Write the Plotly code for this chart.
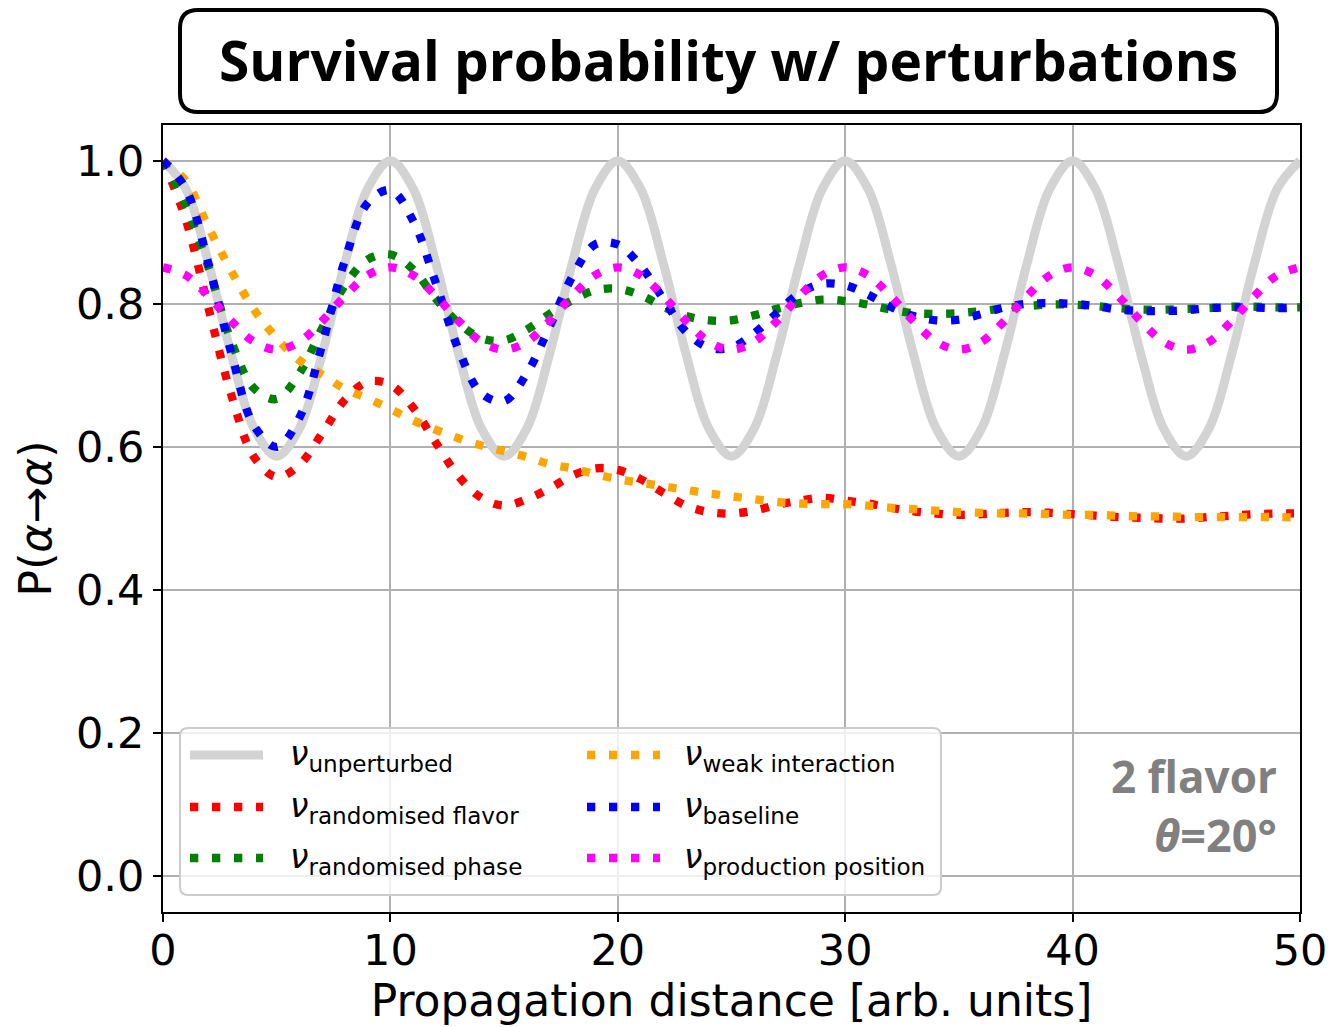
import plotly.graph_objects as go

# ---- data -------------------------------------------------------------
distance = list(range(0, 51))

p_unperturbed = [
    1.000, 0.961, 0.857, 0.730, 0.626, 0.587, 0.626, 0.730, 0.857, 0.961,
    1.000, 0.961, 0.857, 0.730, 0.626, 0.587, 0.626, 0.730, 0.857, 0.961,
    1.000, 0.961, 0.857, 0.730, 0.626, 0.587, 0.626, 0.730, 0.857, 0.961,
    1.000, 0.961, 0.857, 0.730, 0.626, 0.587, 0.626, 0.730, 0.857, 0.961,
    1.000, 0.961, 0.857, 0.730, 0.626, 0.587, 0.626, 0.730, 0.857, 0.961,
    1.000,
]

p_rand_flavor = [
    1.000, 0.918, 0.794, 0.673, 0.586, 0.558, 0.575, 0.619, 0.666, 0.691,
    0.687, 0.655, 0.606, 0.559, 0.529, 0.518, 0.527, 0.542, 0.560, 0.570,
    0.568, 0.555, 0.536, 0.518, 0.509, 0.507, 0.511, 0.519, 0.525, 0.529,
    0.525, 0.521, 0.515, 0.510, 0.507, 0.505, 0.506, 0.508, 0.509, 0.508,
    0.506, 0.504, 0.502, 0.501, 0.500, 0.500, 0.502, 0.504, 0.506, 0.507,
    0.507,
]

p_rand_phase = [
    1.000, 0.937, 0.851, 0.748, 0.682, 0.667, 0.703, 0.766, 0.826, 0.862,
    0.869, 0.848, 0.807, 0.773, 0.752, 0.749, 0.764, 0.786, 0.805, 0.819,
    0.821, 0.812, 0.796, 0.783, 0.777, 0.777, 0.784, 0.793, 0.801, 0.806,
    0.804, 0.799, 0.792, 0.787, 0.786, 0.787, 0.790, 0.794, 0.797, 0.799,
    0.799, 0.797, 0.794, 0.792, 0.792, 0.793, 0.794, 0.796, 0.796, 0.795,
    0.795,
]

p_weak = [
    1.000, 0.972, 0.907, 0.846, 0.792, 0.752, 0.721, 0.701, 0.681, 0.668,
    0.653, 0.637, 0.624, 0.612, 0.602, 0.594, 0.586, 0.576, 0.570, 0.562,
    0.555, 0.550, 0.545, 0.540, 0.535, 0.531, 0.527, 0.523, 0.521, 0.520,
    0.520, 0.518, 0.515, 0.513, 0.511, 0.509, 0.508, 0.507, 0.507, 0.506,
    0.505, 0.505, 0.504, 0.503, 0.503, 0.502, 0.502, 0.502, 0.502, 0.502,
    0.501,
]

p_baseline = [
    1.000, 0.961, 0.856, 0.732, 0.630, 0.600, 0.641, 0.743, 0.861, 0.941,
    0.959, 0.916, 0.829, 0.736, 0.675, 0.664, 0.703, 0.768, 0.838, 0.883,
    0.883, 0.853, 0.807, 0.761, 0.739, 0.739, 0.759, 0.787, 0.815, 0.828,
    0.826, 0.813, 0.796, 0.783, 0.777, 0.778, 0.786, 0.795, 0.800, 0.801,
    0.800, 0.797, 0.792, 0.790, 0.790, 0.791, 0.794, 0.795, 0.795, 0.794,
    0.795,
]

p_production = [
    0.851, 0.840, 0.811, 0.776, 0.747, 0.736, 0.747, 0.776, 0.811, 0.840,
    0.851, 0.840, 0.811, 0.776, 0.747, 0.736, 0.747, 0.776, 0.811, 0.840,
    0.851, 0.840, 0.811, 0.776, 0.747, 0.736, 0.747, 0.776, 0.811, 0.840,
    0.851, 0.840, 0.811, 0.776, 0.747, 0.736, 0.747, 0.776, 0.811, 0.840,
    0.851, 0.840, 0.811, 0.776, 0.747, 0.736, 0.747, 0.776, 0.811, 0.840,
    0.851,
]

series_labels = [
    "unperturbed", "randomised flavor", "randomised phase",
    "weak interaction", "baseline", "production position",
]
series_values = [p_unperturbed, p_rand_flavor, p_rand_phase,
                 p_weak, p_baseline, p_production]
series_colors = ["#d3d3d3", "red", "green", "orange", "blue", "magenta"]

x_ticks = [0, 10, 20, 30, 40, 50]
y_ticks = [0.0, 0.2, 0.4, 0.6, 0.8, 1.0]

# ---- layout geometry (pixels) -------------------------------------------
W, H = 1332, 1027
PL, PR, PT, PB = 163, 1300, 125, 912
PW, PH = PR - PL, PB - PT

DOT_W = 8.3
DOT_DASH = "8.3px,13.7px"


def fx(px):
    return (px - PL) / PW


def fy(py):
    return (PB - py) / PH


def rounded_rect(x0, y0, x1, y1, r):
    pts = [
        ("M", [(x0 + r, y0)]),
        ("L", [(x1 - r, y0)]),
        ("Q", [(x1, y0), (x1, y0 + r)]),
        ("L", [(x1, y1 - r)]),
        ("Q", [(x1, y1), (x1 - r, y1)]),
        ("L", [(x0 + r, y1)]),
        ("Q", [(x0, y1), (x0, y1 - r)]),
        ("L", [(x0, y0 + r)]),
        ("Q", [(x0, y0), (x0 + r, y0)]),
    ]
    parts = []
    for cmd, coords in pts:
        parts.append(cmd + " ".join(f"{fx(a):.5f},{fy(b):.5f}" for a, b in coords))
    return " ".join(parts) + " Z"


fig = go.Figure()

for label, vals, color in zip(series_labels, series_values, series_colors):
    solid = label == "unperturbed"
    fig.add_trace(go.Scatter(
        x=distance, y=vals, mode="lines", name=label, showlegend=False,
        line=dict(color=color, width=9 if solid else DOT_W,
                  dash="solid" if solid else DOT_DASH, shape="spline"),
    ))

shapes = []
annotations = []

# title box
shapes.append(dict(type="path", xref="paper", yref="paper",
                   path=rounded_rect(180, 10, 1277, 112, 18),
                   line=dict(color="black", width=4), fillcolor="white", layer="above"))
annotations.append(dict(xref="paper", yref="paper", x=fx(728), y=fy(60),
                        xanchor="center", yanchor="middle", showarrow=False,
                        text="<b>Survival probability w/ perturbations</b>",
                        font=dict(family="Open Sans", size=55, color="black")))

# legend box
shapes.append(dict(type="path", xref="paper", yref="paper",
                   path=rounded_rect(180, 728, 941, 895, 8),
                   line=dict(color="#cccccc", width=2),
                   fillcolor="rgba(255,255,255,0.8)", layer="above"))

col_line_x = [(190, 263), (587, 660)]
col_text_x = [288, 682]
row_y = [755, 807, 858]
for i, (label, color) in enumerate(zip(series_labels, series_colors)):
    col, row = divmod(i, 3)
    x0, x1 = col_line_x[col]
    y = row_y[row]
    solid = label == "unperturbed"
    shapes.append(dict(type="line", xref="paper", yref="paper",
                       x0=fx(x0), x1=fx(x1), y0=fy(y), y1=fy(y), layer="above",
                       line=dict(color=color, width=9 if solid else DOT_W,
                                 dash="solid" if solid else DOT_DASH)))
    annotations.append(dict(xref="paper", yref="paper", x=fx(col_text_x[col]),
                            y=fy(y), xanchor="left", yanchor="middle",
                            showarrow=False,
                            text=f"<i>ν</i><sub>{label}</sub>",
                            font=dict(family="DejaVu Sans", size=33, color="black")))

# annotation in the lower right
annotations.append(dict(xref="paper", yref="paper", x=fx(1279), y=fy(776),
                        xanchor="right", yanchor="middle", showarrow=False,
                        text="<b>2 flavor</b>",
                        font=dict(family="Open Sans", size=44, color="#808080")))
annotations.append(dict(xref="paper", yref="paper", x=fx(1279), y=fy(834),
                        xanchor="right", yanchor="middle", showarrow=False,
                        text="<b><i>θ</i>=20°</b>",
                        font=dict(family="Open Sans", size=45, color="#808080")))

axis_common = dict(
    showline=True, linecolor="black", linewidth=2, mirror=True,
    showgrid=True, gridcolor="#b0b0b0", gridwidth=2,
    ticks="outside", ticklen=8, tickwidth=2, tickcolor="black",
    tickfont=dict(family="DejaVu Sans", size=43, color="black"),
    zeroline=False, automargin=False,
)

fig.update_layout(
    width=W, height=H,
    margin=dict(l=PL, r=W - PR, t=PT, b=H - PB, autoexpand=False),
    paper_bgcolor="white", plot_bgcolor="white",
    shapes=shapes, annotations=annotations,
    xaxis=dict(range=[0, 50], tickvals=x_ticks, ticklabelstandoff=-9,
               title=dict(text="Propagation distance [arb. units]", standoff=6,
                          font=dict(family="DejaVu Sans", size=44, color="black")),
               **axis_common),
    yaxis=dict(range=[-0.05, 1.05], tickvals=y_ticks, tickformat=".1f",
               title=dict(text="P(<i>α</i>→<i>α</i>)", standoff=11,
                          font=dict(family="DejaVu Sans", size=44, color="black")),
               **axis_common),
)

fig.write_html("out.html")
